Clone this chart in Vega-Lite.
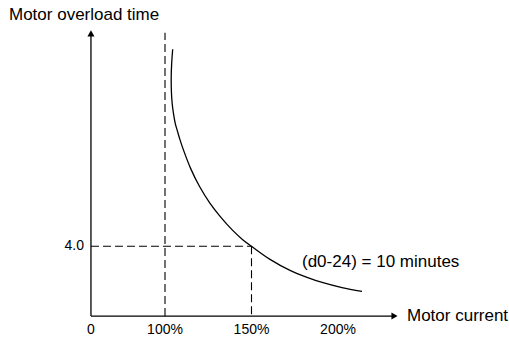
{
  "$schema": "https://vega.github.io/schema/vega-lite/v6.json",
  "width": 509,
  "height": 337,
  "padding": 0,
  "autosize": {"type": "fit", "contains": "padding"},
  "background": "white",
  "config": {"view": {"stroke": null}, "text": {"font": "Liberation Sans", "color": "#000"}},
  "layer": [
    {
      "data": {"values": [
        {"cx": 100, "ct": 0, "cx2": 100, "ct2": 16.23},
        {"cx": 57.2, "ct": 4, "cx2": 150, "ct2": 4},
        {"cx": 150, "ct": 4, "cx2": 150, "ct2": 0}
      ]},
      "mark": {"type": "rule", "color": "#000", "strokeWidth": 1.1, "strokeDash": [8, 4]},
      "encoding": {
        "x": {"field": "cx", "type": "quantitative", "axis": null, "scale": {"domain": [4.624, 298.84], "nice": false, "zero": false}},
        "x2": {"field": "cx2"},
        "y": {"field": "ct", "type": "quantitative", "axis": null, "scale": {"domain": [-1.143, 18.114], "nice": false, "zero": false}},
        "y2": {"field": "ct2"}
      }
    },
    {
      "data": {"values": [
        {"cx": 57.2, "ct": 0, "cx2": 57.2, "ct2": 16.2},
        {"cx": 57.2, "ct": 0, "cx2": 232.66, "ct2": 0}
      ]},
      "mark": {"type": "rule", "color": "#000", "strokeWidth": 1.3},
      "encoding": {
        "x": {"field": "cx", "type": "quantitative", "axis": null, "scale": {"domain": [4.624, 298.84], "nice": false, "zero": false}},
        "x2": {"field": "cx2"},
        "y": {"field": "ct", "type": "quantitative", "axis": null, "scale": {"domain": [-1.143, 18.114], "nice": false, "zero": false}},
        "y2": {"field": "ct2"}
      }
    },
    {
      "data": {"values": [{"cx": 57.2, "ct": 16.2}]},
      "mark": {"type": "point", "shape": "triangle-up", "filled": true, "color": "#000", "opacity": 1, "size": 50},
      "encoding": {
        "x": {"field": "cx", "type": "quantitative", "axis": null, "scale": {"domain": [4.624, 298.84], "nice": false, "zero": false}},
        "y": {"field": "ct", "type": "quantitative", "axis": null, "scale": {"domain": [-1.143, 18.114], "nice": false, "zero": false}}
      }
    },
    {
      "data": {"values": [{"cx": 232.66, "ct": 0}]},
      "mark": {"type": "point", "shape": "triangle-right", "filled": true, "color": "#000", "opacity": 1, "size": 50},
      "encoding": {
        "x": {"field": "cx", "type": "quantitative", "axis": null, "scale": {"domain": [4.624, 298.84], "nice": false, "zero": false}},
        "y": {"field": "ct", "type": "quantitative", "axis": null, "scale": {"domain": [-1.143, 18.114], "nice": false, "zero": false}}
      }
    },
    {
      "data": {"values": [
        {"i": 1, "current": 104.45, "time": 15.29},
        {"i": 2, "current": 103.87, "time": 14.51},
        {"i": 3, "current": 103.58, "time": 13.66},
        {"i": 4, "current": 103.70, "time": 12.86},
        {"i": 5, "current": 104.16, "time": 12.17},
        {"i": 6, "current": 104.91, "time": 11.6},
        {"i": 7, "current": 105.95, "time": 11.03},
        {"i": 8, "current": 107.28, "time": 10.57},
        {"i": 9, "current": 108.55, "time": 10.14},
        {"i": 10, "current": 110.23, "time": 9.64},
        {"i": 11, "current": 114.86, "time": 8.45},
        {"i": 12, "current": 120.06, "time": 7.41},
        {"i": 13, "current": 125.84, "time": 6.49},
        {"i": 14, "current": 132.20, "time": 5.67},
        {"i": 15, "current": 139.13, "time": 4.91},
        {"i": 16, "current": 144.91, "time": 4.38},
        {"i": 17, "current": 150.0, "time": 4.0},
        {"i": 18, "current": 160.69, "time": 3.25},
        {"i": 19, "current": 172.25, "time": 2.62},
        {"i": 20, "current": 182.08, "time": 2.22},
        {"i": 21, "current": 191.33, "time": 1.91},
        {"i": 22, "current": 202.31, "time": 1.63},
        {"i": 23, "current": 213.87, "time": 1.41}
      ]},
      "mark": {"type": "line", "color": "#000", "strokeWidth": 1.3, "interpolate": "catmull-rom"},
      "encoding": {
        "x": {"field": "current", "type": "quantitative", "axis": null, "scale": {"domain": [4.624, 298.84], "nice": false, "zero": false}},
        "y": {"field": "time", "type": "quantitative", "axis": null, "scale": {"domain": [-1.143, 18.114], "nice": false, "zero": false}},
        "order": {"field": "i", "type": "quantitative"}
      }
    },
    {
      "data": {"values": [
        {"cx": 57.2, "ct": -0.8, "label": "0"},
        {"cx": 100, "ct": -0.8, "label": "100%"},
        {"cx": 150, "ct": -0.8, "label": "150%"},
        {"cx": 200, "ct": -0.8, "label": "200%"}
      ]},
      "mark": {"type": "text", "align": "center", "baseline": "middle", "fontSize": 14},
      "encoding": {
        "x": {"field": "cx", "type": "quantitative", "axis": null, "scale": {"domain": [4.624, 298.84], "nice": false, "zero": false}},
        "y": {"field": "ct", "type": "quantitative", "axis": null, "scale": {"domain": [-1.143, 18.114], "nice": false, "zero": false}},
        "text": {"field": "label"}
      }
    },
    {
      "data": {"values": [{"cx": 53.18, "ct": 4, "label": "4.0"}]},
      "mark": {"type": "text", "align": "right", "baseline": "middle", "fontSize": 14},
      "encoding": {
        "x": {"field": "cx", "type": "quantitative", "axis": null, "scale": {"domain": [4.624, 298.84], "nice": false, "zero": false}},
        "y": {"field": "ct", "type": "quantitative", "axis": null, "scale": {"domain": [-1.143, 18.114], "nice": false, "zero": false}},
        "text": {"field": "label"}
      }
    },
    {
      "data": {"values": [
        {"cx": 9.83, "ct": 17.26, "label": "Motor overload time"},
        {"cx": 179.19, "ct": 3.11, "label": "(d0-24) = 10 minutes"},
        {"cx": 239.88, "ct": 0.0, "label": "Motor current"}
      ]},
      "mark": {"type": "text", "align": "left", "baseline": "middle", "fontSize": 17},
      "encoding": {
        "x": {"field": "cx", "type": "quantitative", "axis": null, "scale": {"domain": [4.624, 298.84], "nice": false, "zero": false}},
        "y": {"field": "ct", "type": "quantitative", "axis": null, "scale": {"domain": [-1.143, 18.114], "nice": false, "zero": false}},
        "text": {"field": "label"}
      }
    }
  ]
}
